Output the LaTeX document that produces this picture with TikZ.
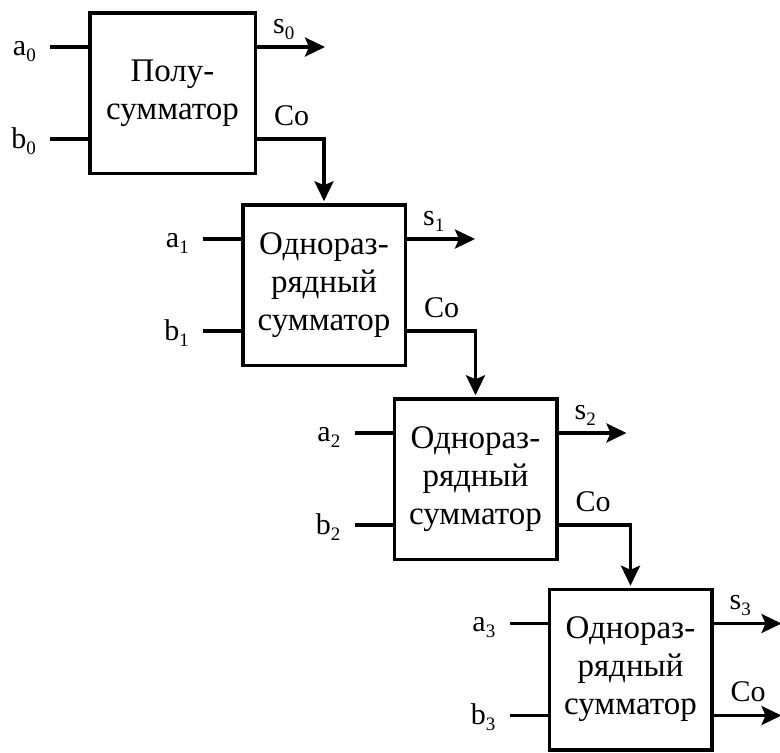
\documentclass[tikz,border=0pt]{standalone}
\usepackage{fontspec}
\setmainfont{Liberation Serif}
\usetikzlibrary{arrows.meta,calc}
\newcommand\sbs[1]{\raisebox{-6pt}{\fontsize{19}{19}\selectfont #1}}
\begin{document}
\begin{tikzpicture}[x=1pt,y=-1pt,
  blk/.style={draw,line width=3.5pt,rectangle,minimum width=162.5pt,minimum height=160.5pt,inner sep=0pt,align=center,font=\fontsize{33}{38}\selectfont},
  wire/.style={line width=3.2pt},
  arr/.style={line width=3.2pt,-{Stealth[length=20pt,width=19pt,inset=4pt]}},
  inlab/.style={anchor=base east,inner sep=0pt,font=\fontsize{30}{30}\selectfont},
  outlab/.style={anchor=base west,inner sep=0pt,font=\fontsize{30}{30}\selectfont}]
\useasboundingbox (0,0) rectangle (780,753);
% blocks
\node[blk,minimum width=165.5pt] (B1) at (172.5,93) {Полу-\\сумматор};
\node[blk] (B2) at (324,285) {Однораз-\\рядный\\сумматор};
\node[blk] (B3) at (475.5,479) {Однораз-\\рядный\\сумматор};
\node[blk] (B4) at (630.5,669.5) {Однораз-\\рядный\\сумматор};
% port coordinates
\foreach \i in {1,2,3,4}{
  \coordinate (a\i) at ($(B\i.west)+(-38,-46)$);
  \coordinate (b\i) at ($(B\i.west)+(-38,46)$);
  \coordinate (s\i) at ($(B\i.east)+(68,-46)$);
  \coordinate (c\i) at ($(B\i.east)+(0,46)$);
}
\coordinate (co4) at ($(B4.east)+(68,46)$);
% inputs and outputs
\foreach \i/\n in {1/0,2/1,3/2,4/3}{
  \draw[wire] (a\i) -- (a\i -| B\i.west);
  \draw[wire] (b\i) -- (b\i -| B\i.west);
  \node[inlab] (la\i) at ($(a\i)+(-14,8)$) {a\sbs{\n}};
  \node[inlab] (lb\i) at ($(b\i)+(-14,9)$) {b\sbs{\n}};
  \draw[arr] (s\i -| B\i.east) -- (s\i);
  \node[outlab] (ls\i) at ($(B\i.east)+(16,-60)$) {s\sbs{\n}};
  \node[outlab] (lc\i) at ($(B\i.east)+(17,32)$) {Co};
}
% carries
\draw[arr] (c1) -| ($(B2.north)+(0,-1.75)$);
\draw[arr] (c2) -| ($(B3.north)+(0,-1.75)$);
\draw[arr] (c3) -| ($(B4.north)+(0,-1.75)$);
\draw[arr] (c4) -- (co4);
\end{tikzpicture}
\end{document}
